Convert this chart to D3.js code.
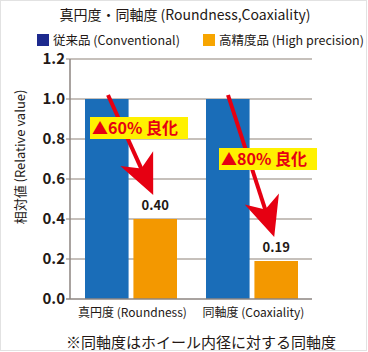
<!DOCTYPE html>
<html>
<head>
<meta charset="utf-8">
<script src="https://cdn.jsdelivr.net/npm/d3@7"></script>
<style>
  body { margin: 0; background: #fff; }
  svg { display: block; font-family: "Noto Sans CJK JP", "Noto Sans", sans-serif; }
</style>
</head>
<body>
<div id="chart"></div>
<script>

// Data ////////////////////////////////////////

const categories = ["真円度 (Roundness)", "同軸度 (Coaxiality)"];
const seriesNames = ["従来品 (Conventional)", "高精度品 (High precision)"];
const conventional = [1.0, 1.0];
const highPrecision = [0.40, 0.19];
const valueLabels = ["0.40", "0.19"];
const improvements = ["▲60% 良化", "▲80% 良化"];
const yTicks = [0, 0.2, 0.4, 0.6, 0.8, 1.0, 1.2];

const width = 368, height = 352;
const margin = { top: 59, right: 56, bottom: 53, left: 70 };
const colors = { conv: "#1a6db8", high: "#f39800", legendConv: "#1d2a8e", legendHigh: "#f7a500" };

const svg = d3.select("#chart").append("svg")
    .attr("width", width)
    .attr("height", height);

// frame
svg.append("rect")
    .attr("x", 0.5).attr("y", 0.5)
    .attr("width", width - 2).attr("height", height - 2)
    .attr("fill", "none")
    .attr("stroke", "#e2e2e2");

// Scales //////////////////////////////////////

const x0 = d3.scaleBand()
    .domain(categories)
    .range([margin.left, width - margin.right])
    .paddingInner(0)
    .paddingOuter(0);

const x1 = d3.scaleBand()
    .domain(["conv", "high"])
    .range([15, x0.bandwidth() - 14])
    .paddingInner(0.1);

const y = d3.scaleLinear()
    .domain([0, 1.2])
    .range([height - margin.bottom, margin.top]);

// Grid + axes /////////////////////////////////

svg.append("g")
    .selectAll("line")
    .data(yTicks.filter(d => d > 0))
    .join("line")
    .attr("x1", margin.left - 4)
    .attr("x2", width - margin.right)
    .attr("y1", d => y(d))
    .attr("y2", d => y(d))
    .attr("stroke", "#b3aba4")
    .attr("stroke-width", 1.5);

svg.append("g")
    .selectAll("text")
    .data(yTicks)
    .join("text")
    .attr("x", margin.left - 5)
    .attr("y", d => y(d))
    .attr("dy", "0.36em")
    .attr("text-anchor", "end")
    .attr("font-size", 15)
    .attr("font-weight", "bold")
    .attr("fill", "#231815")
    .text(d => d3.format(".1f")(d));

svg.append("text")
    .attr("transform", `translate(25, 157) rotate(-90)`)
    .attr("text-anchor", "middle")
    .attr("font-size", 13)
    .attr("fill", "#231815")
    .text("相対値 (Relative value)");

// Bars ////////////////////////////////////////

const groups = svg.append("g")
    .selectAll("g")
    .data(categories)
    .join("g")
    .attr("transform", d => `translate(${x0(d)},0)`);

groups.append("rect")
    .attr("x", x1("conv"))
    .attr("width", x1.bandwidth())
    .attr("y", (d, i) => y(conventional[i]))
    .attr("height", (d, i) => y(0) - y(conventional[i]))
    .attr("fill", colors.conv);

groups.append("rect")
    .attr("x", x1("high"))
    .attr("width", x1.bandwidth())
    .attr("y", (d, i) => y(highPrecision[i]))
    .attr("height", (d, i) => y(0) - y(highPrecision[i]))
    .attr("fill", colors.high);

// axis lines on top
svg.append("line")
    .attr("x1", margin.left).attr("x2", margin.left)
    .attr("y1", margin.top).attr("y2", y(0))
    .attr("stroke", "#8c8580").attr("stroke-width", 1.5);
svg.append("line")
    .attr("x1", margin.left - 4).attr("x2", width - margin.right)
    .attr("y1", y(0)).attr("y2", y(0))
    .attr("stroke", "#8c8580").attr("stroke-width", 1.5);

// value labels
groups.append("text")
    .attr("x", x1("high") + x1.bandwidth() / 2)
    .attr("y", (d, i) => y(highPrecision[i]) - 9)
    .attr("text-anchor", "middle")
    .attr("font-size", 13)
    .attr("font-weight", "bold")
    .attr("fill", "#231815")
    .text((d, i) => valueLabels[i]);

// category labels
svg.append("g")
    .selectAll("text")
    .data(categories)
    .join("text")
    .attr("x", d => x0(d) + x0.bandwidth() / 2 + 2)
    .attr("y", y(0) + 18)
    .attr("text-anchor", "middle")
    .attr("font-size", 12)
    .attr("fill", "#231815")
    .text(d => d);

// Arrows + improvement badges /////////////////

const arrowStart = [[108, 95], [228, 95]];
const boxPos = [[90, 117], [219, 148]];

groups.each(function (d, i) {
    const g0 = x0(d);
    const tipX = g0 + x1("high") + x1.bandwidth() / 2 - 2;
    const tipY = y(highPrecision[i]) - 24;
    const sx = arrowStart[i][0], sy = arrowStart[i][1];
    const ang = Math.atan2(tipY - sy, tipX - sx);
    const headLen = 40, headW = 18;
    const bx = tipX - headLen * Math.cos(ang), by = tipY - headLen * Math.sin(ang);
    const nx = -Math.sin(ang), ny = Math.cos(ang);
    const notch = 11;

    svg.append("line")
        .attr("x1", sx).attr("y1", sy)
        .attr("x2", bx + (notch + 2) * Math.cos(ang)).attr("y2", by + (notch + 2) * Math.sin(ang))
        .attr("stroke", "#e60012")
        .attr("stroke-width", 4);

    svg.append("path")
        .attr("d", `M${tipX},${tipY} L${bx + nx * headW},${by + ny * headW} L${bx + notch * Math.cos(ang)},${by + notch * Math.sin(ang)} L${bx - nx * headW},${by - ny * headW} Z`)
        .attr("fill", "#e60012");

    const [bxp, byp] = boxPos[i];
    svg.append("rect")
        .attr("x", bxp).attr("y", byp)
        .attr("width", 98).attr("height", 22)
        .attr("fill", "#fff100");
    svg.append("text")
        .attr("x", bxp + 2).attr("y", byp + 17)
        .attr("font-size", 16)
        .attr("font-weight", "bold")
        .attr("fill", "#e60012")
        .text(improvements[i]);
});

// Title + legend //////////////////////////////

svg.append("text")
    .attr("x", 185).attr("y", 20)
    .attr("text-anchor", "middle")
    .attr("font-size", 14)
    .attr("fill", "#231815")
    .text("真円度・同軸度 (Roundness,Coaxiality)");

const legend = svg.append("g");
const legendX = [37, 203];
const legendColors = [colors.legendConv, colors.legendHigh];

legend.selectAll("rect")
    .data(seriesNames)
    .join("rect")
    .attr("x", (d, i) => legendX[i])
    .attr("y", 34)
    .attr("width", 12).attr("height", 12)
    .attr("fill", (d, i) => legendColors[i]);

legend.selectAll("text")
    .data(seriesNames)
    .join("text")
    .attr("x", (d, i) => legendX[i] + 16)
    .attr("y", 45)
    .attr("font-size", 12.5)
    .attr("fill", "#231815")
    .text(d => d);

// footnote
svg.append("text")
    .attr("x", 201).attr("y", 348)
    .attr("text-anchor", "middle")
    .attr("font-size", 15)
    .attr("fill", "#231815")
    .text("※同軸度はホイール内径に対する同軸度");

</script>
</body>
</html>
